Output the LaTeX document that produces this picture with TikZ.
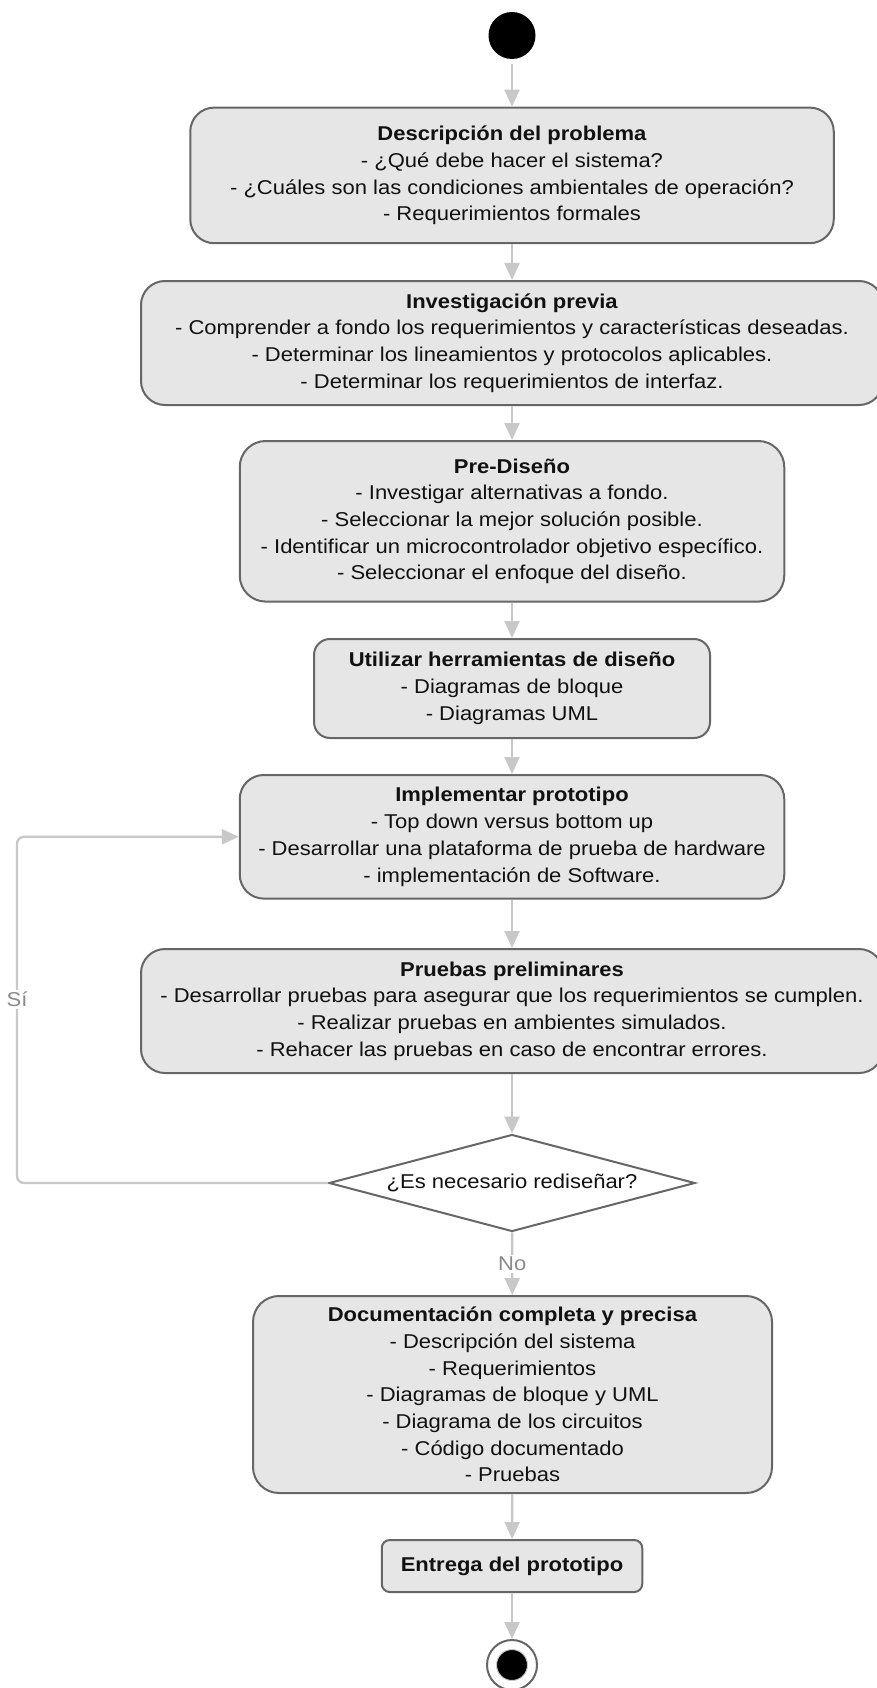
\documentclass[tikz,border=0pt]{standalone}
\usepackage{fontspec}
\setmainfont{Liberation Sans}[FakeStretch=1.1]
\usetikzlibrary{shapes.geometric,arrows.meta}
\definecolor{boxfill}{HTML}{E6E6E6}
\definecolor{boxdraw}{HTML}{666666}
\definecolor{arrowgray}{HTML}{C8C8C8}
\definecolor{labelgray}{HTML}{8A8A8A}
\definecolor{txt}{HTML}{111111}
\tikzset{
  actbox/.style={draw=boxdraw, fill=boxfill, line width=2pt, inner sep=0pt,
    align=center, text=txt, font=\fontsize{20}{26.7}\selectfont},
  flow/.style={draw=arrowgray, line width=2.4pt,
    -{Triangle[length=17pt,width=15pt,fill=arrowgray]}},
  glabel/.style={text=labelgray, fill=white, inner sep=2pt, font=\fontsize{20}{24}\selectfont},
}
\begin{document}
\begin{tikzpicture}[x=1pt,y=-1pt]
\useasboundingbox (0,0) rectangle (876,1688);
\fill[white] (0,0) rectangle (876,1688);

\node[circle, fill=black, minimum size=47pt, inner sep=0pt] (start) at (512,35.5) {};

\node[actbox, rounded corners=24pt, minimum width=643.5pt, minimum height=135.6pt] (b1) at (512,175.4)
{\textbf{Descripción del problema}\\- ¿Qué debe hacer el sistema?\\- ¿Cuáles son las condiciones ambientales de operación?\\- Requerimientos formales};

\node[actbox, rounded corners=24pt, minimum width=742pt, minimum height=124pt] (b2) at (512,343)
{\textbf{Investigación previa}\\- Comprender a fondo los requerimientos y características deseadas.\\- Determinar los lineamientos y protocolos aplicables.\\- Determinar los requerimientos de interfaz.};

\node[actbox, rounded corners=26pt, minimum width=544.5pt, minimum height=160.6pt] (b3) at (512,521.3)
{\textbf{Pre-Diseño}\\- Investigar alternativas a fondo.\\- Seleccionar la mejor solución posible.\\- Identificar un microcontrolador objetivo específico.\\- Seleccionar el enfoque del diseño.};

\node[actbox, rounded corners=16pt, minimum width=396pt, minimum height=99pt] (b4) at (512,688.5)
{\textbf{Utilizar herramientas de diseño}\\- Diagramas de bloque\\- Diagramas UML};

\node[actbox, rounded corners=24pt, minimum width=544.5pt, minimum height=123.6pt] (b5) at (512,836.8)
{\textbf{Implementar prototipo}\\- Top down versus bottom up\\- Desarrollar una plataforma de prueba de hardware\\- implementación de Software.};

\node[actbox, rounded corners=24pt, minimum width=742pt, minimum height=124pt] (b6) at (512,1011)
{\textbf{Pruebas preliminares}\\- Desarrollar pruebas para asegurar que los requerimientos se cumplen.\\- Realizar pruebas en ambientes simulados.\\- Rehacer las pruebas en caso de encontrar errores.};

\node[diamond, aspect=3.77, draw=boxdraw, fill=white, line width=2pt, inner sep=0pt, text=txt,
  minimum width=366pt, minimum height=97pt, font=\fontsize{20}{24}\selectfont] (d) at (512,1183)
{¿Es necesario rediseñar?};

\node[actbox, rounded corners=26pt, minimum width=519pt, minimum height=197pt] (b7) at (512.5,1394.5)
{\textbf{Documentación completa y precisa}\\- Descripción del sistema\\- Requerimientos\\- Diagramas de bloque y UML\\- Diagrama de los circuitos\\- Código documentado\\- Pruebas};

\node[actbox, rounded corners=8pt, minimum width=260.5pt, minimum height=52pt] (b8) at (512,1566)
{\textbf{Entrega del prototipo}};

\node[circle, draw=boxdraw, fill=white, line width=2pt, minimum size=50pt, inner sep=0pt] (end) at (512,1665) {};
\node[circle, fill=black, draw=arrowgray, line width=1pt, minimum size=31pt, inner sep=0pt] (endin) at (512,1665) {};

\draw[flow, shorten <=5pt] (start) -- (b1);
\draw[flow] (b1) -- (b2);
\draw[flow] (b2) -- (b3);
\draw[flow] (b3) -- (b4);
\draw[flow] (b4) -- (b5);
\draw[flow] (b5) -- (b6);
\draw[flow] (b6) -- (d);
\draw[flow] (d) -- node[glabel] {No} (b7);
\draw[flow] (b7) -- (b8);
\draw[flow] (b8) -- (end);
\coordinate (lb) at (17,1183);
\coordinate (lt) at (17,836.8);
\draw[flow, rounded corners=7pt] (d.west) -- (lb) -- node[glabel, pos=0.53] {Sí} (lt) -- (b5.west);
\end{tikzpicture}
\end{document}
